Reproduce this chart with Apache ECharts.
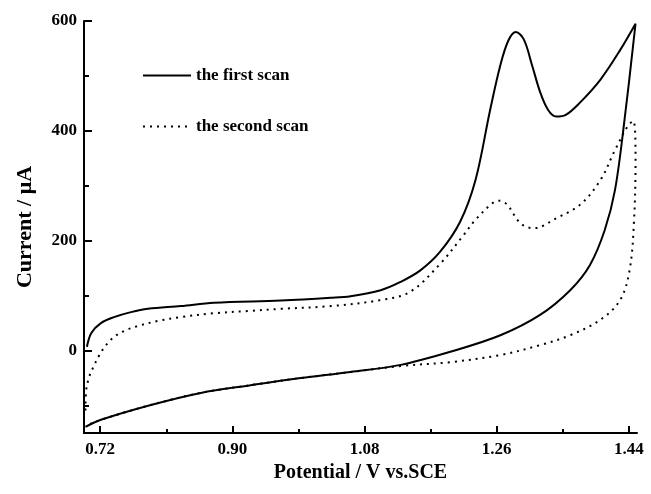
<!DOCTYPE html>
<html>
<head>
<meta charset="utf-8">
<script src="https://cdn.jsdelivr.net/npm/echarts@6/dist/echarts.min.js"></script>
<style>
  html, body { margin: 0; padding: 0; background: #fff; }
  #chart { width: 651px; height: 494px; }
</style>
</head>
<body>
<div id="chart"></div>
<script>
// Cyclic voltammogram: potential (V vs. SCE) and current (uA) for two scans
const firstScanPotential = [
  0.702, 0.708, 0.721, 0.739, 0.762, 0.785, 0.830, 0.875, 0.966, 1.034, 1.061, 1.102,
  1.129, 1.156, 1.183, 1.210, 1.231, 1.251, 1.265, 1.276, 1.286, 1.297, 1.308, 1.319,
  1.330, 1.341, 1.354, 1.373, 1.401, 1.428, 1.449,
  1.434, 1.421, 1.407, 1.387, 1.360, 1.319, 1.265, 1.197, 1.129, 1.061, 0.993, 0.925,
  0.857, 0.789, 0.721, 0.700
];
const firstScanCurrent = [
  7, 32, 50, 61, 70, 76, 81, 87, 91, 96, 99, 110,
  125, 146, 180, 234, 310, 438, 520, 565, 580, 566, 520, 471,
  438, 426, 429, 451, 493, 547, 595,
  420, 292, 219, 156, 110, 65, 28, -2, -26, -39, -50, -63,
  -77, -99, -126, -139
];
const secondScanPotential = [
  0.700, 0.701, 0.705, 0.710, 0.719, 0.728, 0.739, 0.753, 0.772, 0.799, 0.830, 0.875,
  0.921, 0.966, 1.034, 1.102, 1.142, 1.183, 1.213, 1.231, 1.253, 1.263, 1.274, 1.290,
  1.303, 1.314, 1.326, 1.337, 1.373, 1.401, 1.421, 1.439, 1.446,
  1.449, 1.447, 1.441, 1.428, 1.401, 1.360, 1.319, 1.265, 1.197, 1.129, 1.061, 0.993,
  0.925, 0.857, 0.789, 0.721, 0.700
];
const secondScanCurrent = [
  -109, -72, -48, -32, -8, 10, 25, 36, 45, 54, 61, 68,
  72, 76, 81, 92, 107, 158, 207, 238, 267, 273, 266, 235,
  224, 223, 229, 238, 265, 310, 365, 410, 418,
  347, 238, 147, 92, 56, 28, 10, -8, -21, -28, -39, -50,
  -63, -77, -99, -126, -137
];

const xMajorTicks = [0.72, 0.90, 1.08, 1.26, 1.44];
const xMinorTicks = [0.81, 0.99, 1.17, 1.35];
const yMajorTicks = [0, 200, 400, 600];
const yMinorTicks = [-100, 100, 300, 500];

const seriesNames = ['the first scan', 'the second scan'];

const pairs = (xs, ys) => xs.map((x, i) => [x, ys[i]]);

const serif = '"Liberation Serif", "Times New Roman", serif';
const labelStyle = { fontFamily: serif, fontWeight: 'bold', fontSize: 17, color: '#000' };
const titleStyle = { fontFamily: serif, fontWeight: 'bold', fontSize: 20, color: '#000' };

const X_MIN = 0.698, X_MAX = 1.451, Y_MIN = -150, Y_MAX = 600;

const chart = echarts.init(document.getElementById('chart'), null, { renderer: 'canvas' });
chart.setOption({
  animation: false,
  backgroundColor: '#fff',
  grid: { left: 84, right: 14, top: 21, bottom: 61 },
  legend: {
    orient: 'vertical',
    left: 142,
    top: 67,
    padding: 0,
    itemWidth: 48,
    itemHeight: 16,
    itemGap: 34,
    itemStyle: { opacity: 0 },
    textStyle: { fontFamily: serif, fontWeight: 'bold', fontSize: 17, color: '#000' },
    data: seriesNames
  },
  xAxis: [
    {
      type: 'value', min: X_MIN, max: X_MAX,
      name: 'Potential / V vs.SCE', nameLocation: 'middle', nameGap: 27,
      nameTextStyle: titleStyle,
      axisLine: { onZero: false, lineStyle: { color: '#000', width: 2 } },
      axisTick: { inside: true, length: 7, lineStyle: { color: '#000', width: 2 }, customValues: xMajorTicks },
      axisLabel: Object.assign({ margin: 8, customValues: xMajorTicks, formatter: v => v.toFixed(2) }, labelStyle),
      splitLine: { show: false }
    },
    {
      type: 'value', min: X_MIN, max: X_MAX, position: 'bottom',
      axisLine: { show: false, onZero: false },
      axisTick: { inside: true, length: 4, lineStyle: { color: '#000', width: 2 }, customValues: xMinorTicks },
      axisLabel: { show: false },
      splitLine: { show: false }
    }
  ],
  yAxis: [
    {
      type: 'value', min: Y_MIN, max: Y_MAX,
      name: 'Current / \u03bcA', nameLocation: 'middle', nameGap: 48,
      nameTextStyle: Object.assign({}, titleStyle, { fontSize: 22 }),
      axisLine: { onZero: false, lineStyle: { color: '#000', width: 2 } },
      axisTick: { inside: true, length: 8, lineStyle: { color: '#000', width: 2 }, customValues: yMajorTicks },
      axisLabel: Object.assign({ margin: 7, customValues: yMajorTicks }, labelStyle),
      splitLine: { show: false }
    },
    {
      type: 'value', min: Y_MIN, max: Y_MAX, position: 'left',
      axisLine: { show: false, onZero: false },
      axisTick: { inside: true, length: 5, lineStyle: { color: '#000', width: 2 }, customValues: yMinorTicks },
      axisLabel: { show: false },
      splitLine: { show: false }
    }
  ],
  series: [
    {
      name: seriesNames[0], type: 'line', xAxisIndex: 0, yAxisIndex: 0,
      data: pairs(firstScanPotential, firstScanCurrent),
      showSymbol: false, symbol: 'none', smooth: 0.35,
      lineStyle: { color: '#000', width: 2 },
      itemStyle: { color: '#000' }
    },
    {
      name: seriesNames[1], type: 'line', xAxisIndex: 0, yAxisIndex: 0,
      data: pairs(secondScanPotential, secondScanCurrent),
      showSymbol: false, symbol: 'none', smooth: 0.35,
      lineStyle: { color: '#000', width: 2, type: [2, 5] },
      itemStyle: { color: '#000' }
    }
  ]
});
</script>
</body>
</html>
